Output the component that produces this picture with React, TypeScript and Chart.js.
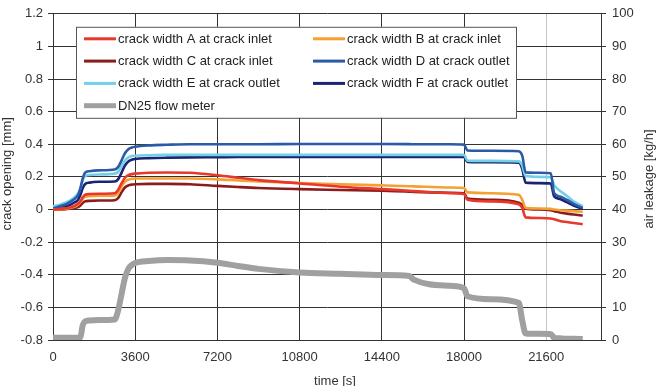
import { useEffect, useRef } from "react";
import { Chart, registerables } from "chart.js";

Chart.register(...registerables);

// Sample times [s]
const timeS = [
  0, 300, 600, 900, 1100, 1200, 1300, 1400, 1600, 2000,
  2700, 2850, 3000, 3150, 3300, 3450, 3600, 4200, 5000, 6000,
  7200, 8100, 9000, 10800, 12600, 14400, 15600, 15800, 17400, 18000,
  18150, 19200, 20400, 20550, 20700, 21300, 21800, 21950, 22200, 22500,
  22800, 23200,
];

// Crack opening [mm]
const crackA = [
  0, 0.003, 0.008, 0.02, 0.035, 0.05, 0.075, 0.09, 0.095, 0.097,
  0.1, 0.12, 0.16, 0.195, 0.21, 0.217, 0.22, 0.225, 0.227, 0.225,
  0.21, 0.195, 0.18, 0.16, 0.14, 0.125, 0.115, 0.113, 0.1, 0.095,
  0.06, 0.05, 0.032, 0.01, -0.048, -0.052, -0.055, -0.06, -0.07, -0.077,
  -0.083, -0.09,
];
const crackB = [
  0, 0.002, 0.006, 0.015, 0.03, 0.045, 0.065, 0.078, 0.082, 0.084,
  0.086, 0.1, 0.14, 0.17, 0.183, 0.188, 0.19, 0.19, 0.19, 0.19,
  0.185, 0.178, 0.172, 0.163, 0.155, 0.148, 0.143, 0.142, 0.135, 0.132,
  0.105, 0.1, 0.09, 0.06, 0.01, 0.006, 0.004, 0, -0.004, -0.007,
  -0.01, -0.014,
];
const crackC = [
  0, 0, 0.003, 0.008, 0.015, 0.025, 0.04, 0.05, 0.053, 0.055,
  0.057, 0.07, 0.105, 0.135, 0.148, 0.153, 0.155, 0.157, 0.157, 0.155,
  0.145, 0.138, 0.132, 0.125, 0.12, 0.115, 0.11, 0.108, 0.103, 0.1,
  0.068, 0.06, 0.042, 0.03, 0.005, 0, -0.005, -0.01, -0.018, -0.025,
  -0.031, -0.037,
];
const crackD = [
  0.005, 0.02, 0.035, 0.06, 0.09, 0.13, 0.19, 0.225, 0.235, 0.24,
  0.245, 0.26, 0.3, 0.345, 0.37, 0.38, 0.385, 0.393, 0.397, 0.4,
  0.4, 0.4, 0.4, 0.402, 0.402, 0.402, 0.401, 0.4, 0.4, 0.398,
  0.362, 0.36, 0.357, 0.33, 0.228, 0.225, 0.222, 0.1, 0.08, 0.06,
  0.035, 0.01,
];
const crackE = [
  0.02, 0.03, 0.045, 0.07, 0.1, 0.13, 0.18, 0.205, 0.212, 0.215,
  0.22, 0.23, 0.265, 0.3, 0.32, 0.328, 0.33, 0.333, 0.335, 0.335,
  0.335, 0.335, 0.335, 0.335, 0.335, 0.335, 0.335, 0.335, 0.335, 0.335,
  0.3, 0.298, 0.295, 0.27, 0.205, 0.2, 0.198, 0.15, 0.115, 0.085,
  0.05, 0.02,
];
const crackF = [
  0, 0.01, 0.02, 0.04, 0.06, 0.09, 0.13, 0.155, 0.165, 0.17,
  0.172, 0.185, 0.225, 0.27, 0.295, 0.305, 0.31, 0.315, 0.318, 0.32,
  0.321, 0.322, 0.322, 0.322, 0.322, 0.322, 0.322, 0.322, 0.322, 0.322,
  0.292, 0.29, 0.287, 0.25, 0.165, 0.162, 0.16, 0.08, 0.065, 0.045,
  0.025, 0.005,
];

// Air leakage [kg/h]
const flowDN25 = [
  0.7, 0.7, 0.7, 0.7, 0.7, 0.8, 4.5, 5.7, 6.0, 6.1,
  6.3, 9, 14, 19, 21.8, 23.0, 23.6, 24.2, 24.5, 24.4,
  23.7, 22.7, 21.8, 20.7, 20.3, 19.9, 19.6, 18.5, 16.6, 15.9,
  13.4, 12.5, 11.4, 6, 2.0, 1.9, 1.8, 0.7, 0.5, 0.4,
  0.4, 0.3,
];

const timeTicks = [0, 3600, 7200, 10800, 14400, 18000, 21600];

const seriesLabels = [
  "crack width A at crack inlet",
  "crack width B at crack inlet",
  "crack width C at crack inlet",
  "crack width D at crack outlet",
  "crack width E at crack outlet",
  "crack width F at crack outlet",
  "DN25 flow meter",
];
const seriesColors = [
  "#e8372b",
  "#f5a033",
  "#8c1c1c",
  "#2b5aa8",
  "#72d0e8",
  "#1b2373",
  "#a0a0a0",
];

const axisTitles = {
  x: "time [s]",
  y: "crack opening [mm]",
  y2: "air leakage [kg/h]",
};

const FONT = '"Liberation Sans", Arial, sans-serif';
const INK = "#333333";
const GRID = "#333333";

const toPoints = (ys: number[]) => timeS.map((t, i) => ({ x: t, y: ys[i] }));

// Axis titles: both vertical titles read bottom-to-top
const axisTitlePlugin = {
  id: "axisTitlePlugin",
  afterDraw(chart: any) {
    const { ctx, chartArea } = chart;
    const midY = (chartArea.top + chartArea.bottom) / 2;
    ctx.save();
    ctx.font = `13px ${FONT}`;
    ctx.fillStyle = INK;
    ctx.textAlign = "center";
    ctx.textBaseline = "middle";

    ctx.save();
    ctx.translate(7, midY - 3);
    ctx.rotate(-Math.PI / 2);
    ctx.fillText(axisTitles.y, 0, 0);
    ctx.restore();

    ctx.save();
    ctx.translate(chartArea.right + 48, midY + 2);
    ctx.rotate(-Math.PI / 2);
    ctx.fillText(axisTitles.y2, 0, 0);
    ctx.restore();

    ctx.textBaseline = "top";
    ctx.fillText(axisTitles.x, (chartArea.left + chartArea.right) / 2 + 8, chartArea.bottom + 35);
    ctx.restore();
  },
};

// Boxed two-column legend drawn inside the plot area
const boxLegend = {
  id: "boxLegend",
  afterDraw(chart: any) {
    const { ctx, chartArea } = chart;
    const left = chartArea.left + 23;
    const top = chartArea.top + 13;
    const w = 440;
    const h = 91;
    ctx.save();
    ctx.fillStyle = "#ffffff";
    ctx.fillRect(left, top, w, h);
    ctx.strokeStyle = "#555555";
    ctx.lineWidth = 1;
    ctx.strokeRect(left + 0.5, top + 0.5, w, h);
    ctx.font = `13px ${FONT}`;
    ctx.textBaseline = "middle";
    ctx.textAlign = "left";
    chart.data.datasets.forEach((ds: any, i: number) => {
      const col = i % 2;
      const row = Math.floor(i / 2);
      const x0 = left + 8 + col * 229;
      const y = top + 12 + row * 22.3;
      ctx.strokeStyle = ds.borderColor;
      ctx.lineWidth = i === 6 ? 5 : 3;
      ctx.beginPath();
      ctx.moveTo(x0, y);
      ctx.lineTo(x0 + 32, y);
      ctx.stroke();
      ctx.fillStyle = "#222222";
      ctx.fillText(ds.label, x0 + 34, y + 0.5);
    });
    ctx.restore();
  },
};

export default function App() {
  const canvasRef = useRef<HTMLCanvasElement | null>(null);

  useEffect(() => {
    const canvas = canvasRef.current;
    if (!canvas) return;
    const crackSeries = [crackA, crackB, crackC, crackD, crackE, crackF];
    const datasets: any[] = crackSeries.map((ys, i) => ({
      label: seriesLabels[i],
      data: toPoints(ys),
      borderColor: seriesColors[i],
      backgroundColor: seriesColors[i],
      borderWidth: 2.6,
      pointRadius: 0,
      cubicInterpolationMode: "monotone",
      yAxisID: "y",
    }));
    datasets.push({
      label: seriesLabels[6],
      data: toPoints(flowDN25),
      borderColor: seriesColors[6],
      backgroundColor: seriesColors[6],
      borderWidth: 6,
      pointRadius: 0,
      cubicInterpolationMode: "monotone",
      yAxisID: "y2",
    });

    const chart = new Chart(canvas, {
      type: "line",
      data: { datasets },
      options: {
        responsive: false,
        animation: false,
        layout: { padding: { top: 11, left: 0, right: 0, bottom: 0 } },
        plugins: { legend: { display: false }, tooltip: { enabled: false } },
        scales: {
          x: {
            type: "linear",
            min: 0,
            max: 24000,
            afterBuildTicks: (scale: any) => {
              scale.ticks = timeTicks.map((v) => ({ value: v }));
            },
            afterFit: (scale: any) => {
              scale.height = 46;
            },
            grid: {
              color: (c: any) => (c.tick && c.tick.value === 21600 ? "#c4c4c4" : GRID),
              lineWidth: 1,
              drawTicks: false,
            },
            border: { color: GRID, width: 1 },
            ticks: {
              color: INK,
              font: { family: FONT, size: 13 },
              padding: 10,
              maxRotation: 0,
              autoSkip: false,
              callback: (v: any) => String(v),
            },
          },
          y: {
            position: "left",
            min: -0.8,
            max: 1.2,
            afterFit: (scale: any) => {
              scale.width = 53;
            },
            grid: { color: GRID, lineWidth: 1, tickLength: 5 },
            border: { color: GRID, width: 1 },
            ticks: {
              stepSize: 0.2,
              color: INK,
              font: { family: FONT, size: 13 },
              padding: 5,
              callback: (v: any) => String(Number(Number(v).toFixed(1))),
            },
          },
          y2: {
            position: "right",
            min: 0,
            max: 100,
            afterFit: (scale: any) => {
              scale.width = 59;
            },
            grid: { drawOnChartArea: false, color: GRID, tickLength: 5 },
            border: { color: GRID, width: 1 },
            ticks: {
              stepSize: 10,
              color: INK,
              font: { family: FONT, size: 13 },
              padding: 6,
            },
          },
        },
      },
      plugins: [boxLegend, axisTitlePlugin],
    });

    return () => chart.destroy();
  }, []);

  return (
    <div style={{ position: "fixed", left: 0, top: 0, width: 660, height: 386, background: "#ffffff" }}>
      <canvas ref={canvasRef} width={660} height={386} />
    </div>
  );
}
